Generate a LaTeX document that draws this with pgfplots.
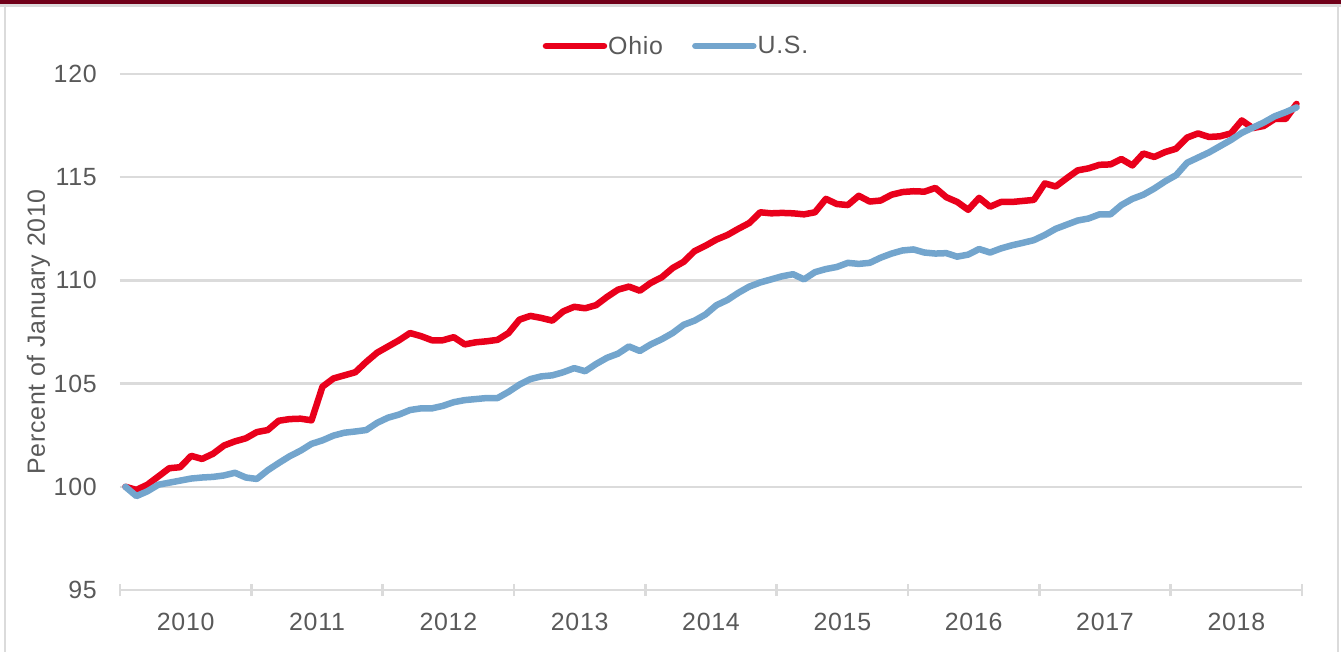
\documentclass[border=0pt]{standalone}
\usepackage{pgfplots}
\pgfplotsset{compat=1.18}
\usepackage{pgfplotstable}
\usepackage{fontspec}
\setmainfont[LetterSpace=3]{Liberation Sans}
\definecolor{ohiored}{RGB}{233,0,27}
\definecolor{usblue}{RGB}{115,165,205}
\definecolor{gridgray}{RGB}{219,219,219}
\definecolor{txtgray}{RGB}{89,89,89}
\definecolor{maroon}{RGB}{112,0,25}
\pgfplotstableread{
m ohio us
0 100.0 100.0
1 99.85 99.55
2 100.1 99.78
3 100.5 100.1
4 100.9 100.2
5 100.95 100.3
6 101.5 100.4
7 101.35 100.45
8 101.6 100.48
9 102.0 100.55
10 102.2 100.68
11 102.35 100.45
12 102.65 100.38
13 102.75 100.8
14 103.2 101.15
15 103.28 101.48
16 103.3 101.75
17 103.22 102.08
18 104.85 102.25
19 105.25 102.48
20 105.4 102.62
21 105.55 102.68
22 106.05 102.75
23 106.5 103.1
24 106.8 103.35
25 107.1 103.5
26 107.45 103.72
27 107.3 103.8
28 107.1 103.8
29 107.1 103.92
30 107.25 104.1
31 106.9 104.2
32 107.0 104.25
33 107.05 104.3
34 107.12 104.3
35 107.45 104.6
36 108.1 104.95
37 108.28 105.22
38 108.18 105.35
39 108.05 105.4
40 108.5 105.55
41 108.72 105.75
42 108.65 105.6
43 108.8 105.95
44 109.2 106.25
45 109.55 106.45
46 109.7 106.8
47 109.5 106.58
48 109.88 106.9
49 110.15 107.15
50 110.6 107.45
51 110.9 107.85
52 111.42 108.05
53 111.68 108.35
54 111.98 108.8
55 112.2 109.05
56 112.5 109.4
57 112.78 109.7
58 113.3 109.9
59 113.25 110.05
60 113.27 110.2
61 113.25 110.3
62 113.2 110.05
63 113.3 110.4
64 113.95 110.55
65 113.7 110.65
66 113.65 110.85
67 114.1 110.8
68 113.82 110.85
69 113.87 111.1
70 114.15 111.3
71 114.28 111.45
72 114.32 111.5
73 114.3 111.35
74 114.48 111.3
75 114.03 111.32
76 113.8 111.15
77 113.42 111.25
78 114.0 111.52
79 113.57 111.35
80 113.8 111.55
81 113.8 111.7
82 113.85 111.82
83 113.9 111.95
84 114.7 112.2
85 114.55 112.5
86 114.95 112.7
87 115.33 112.9
88 115.43 113.0
89 115.6 113.2
90 115.62 113.2
91 115.88 113.65
92 115.57 113.95
93 116.15 114.15
94 115.98 114.45
95 116.22 114.8
96 116.38 115.1
97 116.92 115.7
98 117.12 115.95
99 116.95 116.2
100 116.98 116.5
101 117.12 116.8
102 117.75 117.15
103 117.38 117.4
104 117.48 117.65
105 117.82 117.95
106 117.82 118.15
107 118.55 118.38
}\datatable
\begin{document}
\begin{tikzpicture}
\begin{axis}[
  name=ax,
  scale only axis,
  width=1182bp, height=516bp,
  xmin=-0.5, xmax=107.5,
  ymin=95, ymax=120,
  axis x line*=bottom, axis y line*=left,
  y axis line style={draw=none},
  x axis line style={draw=gridgray, line width=2.5bp},
  ytick={95,100,...,120},
  ymajorgrids=true,
  grid style={gridgray, line width=2.5bp},
  major tick length=0pt,
  ytick style={draw=none},
  xtick={5.5,17.5,...,101.5},
  xticklabels={2010,2011,2012,2013,2014,2015,2016,2017,2018},
  minor xtick={-0.5,11.5,...,107.5},
  minor tick length=12bp,
  tick align=center,
  minor x tick style={draw=gridgray, line width=2.5bp},
  /pgf/number format/assume math mode=true,
  tick label style={font=\fontsize{25}{29}\selectfont, text=txtgray},
  yticklabel style={anchor=east, inner sep=0pt, xshift=-23bp},
  xticklabel style={anchor=north, inner sep=0pt, yshift=-23bp},
  ylabel={Percent of January 2010},
  ylabel style={at={(axis description cs:-0.0690,0.5)}, anchor=center, font=\fontsize{25}{29}\selectfont, text=txtgray},
  legend columns=2,
  legend style={at={(axis description cs:0.4704,1.0543)}, anchor=center, draw=none, fill=none,
    font=\fontsize{25}{29}\selectfont, text=txtgray, inner sep=0pt,
    nodes={inner sep=1bp}},
  /tikz/every even column/.append style={column sep=28bp},
  legend image code/.code={\draw[#1, line width=6.5bp] (0bp,0bp) -- (58bp,0bp);},
  clip=false,
]
\addplot[ohiored, line width=6.5bp, line join=round, line cap=round] table[x=m, y=ohio] {\datatable};
\addlegendentry{Ohio}
\addplot[usblue, line width=6.5bp, line join=round, line cap=round] table[x=m, y=us] {\datatable};
\addlegendentry{U.S.}
\end{axis}
\fill[maroon] (-120bp,586bp) rectangle (1221bp,590bp);
\draw[gridgray, line width=2.5bp] (-120bp,584.5bp) -- (1221bp,584.5bp);
\draw[gridgray, line width=2bp] (-114.5bp,-62bp) -- (-114.5bp,584.5bp);
\draw[gridgray, line width=2bp] (1218bp,-62bp) -- (1218bp,584.5bp);
\pgfresetboundingbox
\path[use as bounding box] (-120bp,-62bp) rectangle (1221bp,590bp);
\end{tikzpicture}
\end{document}
